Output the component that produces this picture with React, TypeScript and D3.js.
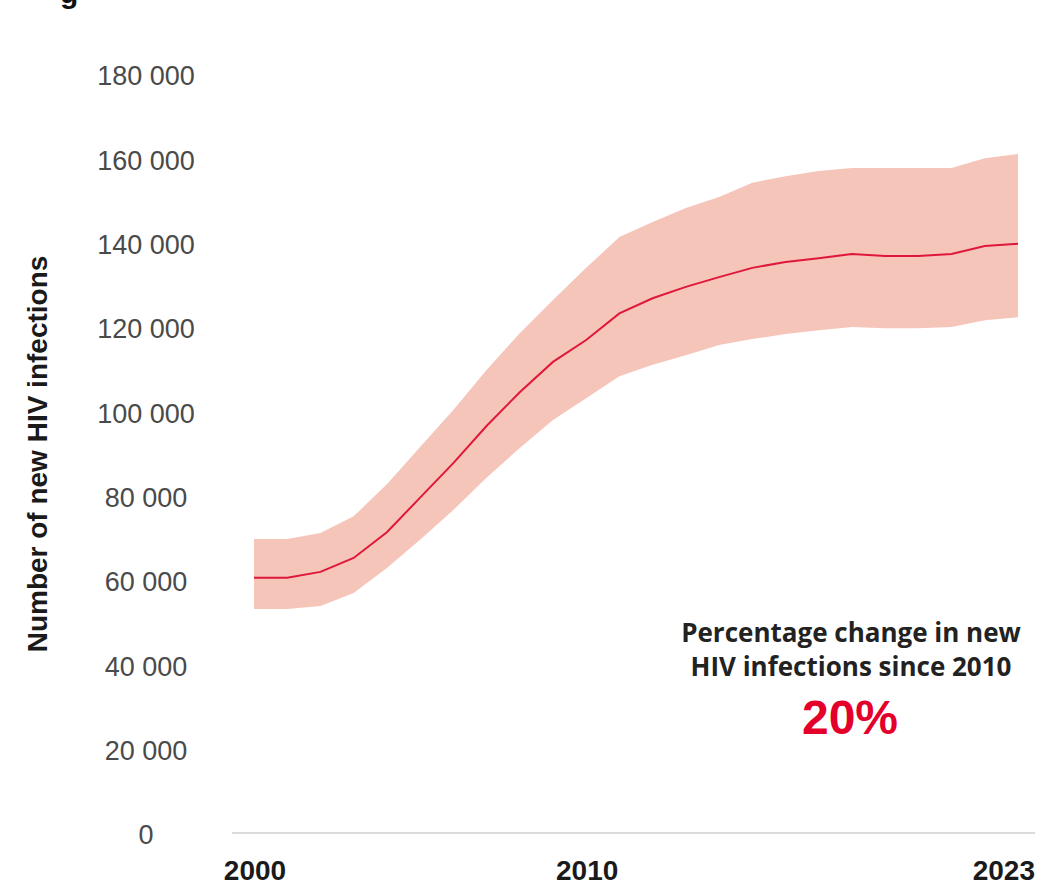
import React, { useEffect, useRef } from 'react';
import * as d3 from 'd3';

const years = d3.range(2000, 2024);
const estimate = [61000, 61000, 62400, 65700, 71800, 80000, 88200, 97000, 105000, 112200, 117400, 123700, 127300, 130000, 132300, 134500, 135900, 136800, 137800, 137300, 137300, 137800, 139700, 140200];
const upper = [70200, 70200, 71600, 75600, 83200, 92000, 100800, 110300, 119000, 126900, 134500, 141800, 145400, 148700, 151300, 154700, 156200, 157500, 158200, 158200, 158200, 158200, 160500, 161500];
const lower = [53600, 53600, 54300, 57400, 63300, 70000, 77100, 84700, 91800, 98400, 103600, 108800, 111500, 113800, 116200, 117600, 118800, 119700, 120500, 120200, 120200, 120500, 122100, 122800];
const yTicks = [0, 20000, 40000, 60000, 80000, 100000, 120000, 140000, 160000, 180000];
const xTicks = [2000, 2010, 2023];

const App = () => {
  const svgRef = useRef(null);

  useEffect(() => {
    const svg = d3.select(svgRef.current);
    svg.selectAll('*').remove();

    const x = d3.scaleLinear().domain([2000, 2023]).range([254, 1018]);
    const y = d3.scaleLinear().domain([0, 180000]).range([835, 76]);

    // cut-off title glyph at the top
    svg.append('text')
      .attr('x', 60).attr('y', 3)
      .style('font-family', 'Liberation Sans, Arial, sans-serif')
      .style('font-weight', 'bold').style('font-size', '30px')
      .style('fill', '#111')
      .text('g');

    // band
    const area = d3.area()
      .x((d, i) => x(years[i]))
      .y0((d, i) => y(lower[i]))
      .y1((d, i) => y(upper[i]));
    svg.append('path')
      .attr('d', area(years))
      .style('fill', '#f6c5b9');

    // estimate line
    const line = d3.line()
      .x((d, i) => x(years[i]))
      .y((d) => y(d));
    svg.append('path')
      .attr('d', line(estimate))
      .style('fill', 'none')
      .style('stroke', '#e0173d')
      .style('stroke-width', 2);

    // y tick labels
    const fmt = (v) => d3.format(',')(v).replace(/,/g, ' ');
    svg.append('g').selectAll('text')
      .data(yTicks)
      .join('text')
      .attr('x', 146)
      .attr('y', (d) => y(d))
      .attr('dy', '0.35em')
      .attr('text-anchor', 'middle')
      .style('font-family', 'Liberation Sans, Arial, sans-serif')
      .style('font-size', '27px')
      .style('fill', '#4a4a4a')
      .text(fmt);

    // x axis line
    svg.append('line')
      .attr('x1', 232).attr('x2', 1035)
      .attr('y1', 833).attr('y2', 833)
      .style('stroke', '#cfcfcf')
      .style('stroke-width', 1.5);

    // x tick labels
    svg.append('g').selectAll('text')
      .data(xTicks)
      .join('text')
      .attr('x', (d) => (d === 2023 ? x(d) + 17 : x(d) + 1))
      .attr('y', 880)
      .attr('text-anchor', (d) => (d === 2023 ? 'end' : 'middle'))
      .style('font-family', 'Liberation Sans, Arial, sans-serif')
      .style('font-weight', 'bold')
      .style('font-size', '28px')
      .style('fill', '#1a1a1a')
      .text((d) => d);

    // y axis title
    svg.append('text')
      .attr('transform', 'translate(47,454) rotate(-90)')
      .attr('text-anchor', 'middle')
      .style('font-family', 'Liberation Sans, Arial, sans-serif')
      .style('font-weight', 'bold')
      .style('font-size', '28px')
      .style('fill', '#1a1a1a')
      .text('Number of new HIV infections');

    // annotation
    const note = svg.append('g')
      .attr('text-anchor', 'middle')
      .style('font-family', 'Open Sans, sans-serif')
      .style('font-weight', 'bold')
      .style('font-size', '26px')
      .style('fill', '#222');
    note.append('text').attr('x', 851).attr('y', 642).text('Percentage change in new');
    note.append('text').attr('x', 851).attr('y', 676).text('HIV infections since 2010');
    svg.append('text')
      .attr('x', 850).attr('y', 734)
      .attr('text-anchor', 'middle')
      .style('font-family', 'Liberation Sans, Arial, sans-serif')
      .style('font-weight', 'bold')
      .style('font-size', '48px')
      .style('fill', '#e4002b')
      .text('20%');
  }, []);

  return (
    <svg
      ref={svgRef}
      width={1054}
      height={886}
      style={{ position: 'absolute', left: 0, top: 0, background: '#fff' }}
    />
  );
};

export default App;
